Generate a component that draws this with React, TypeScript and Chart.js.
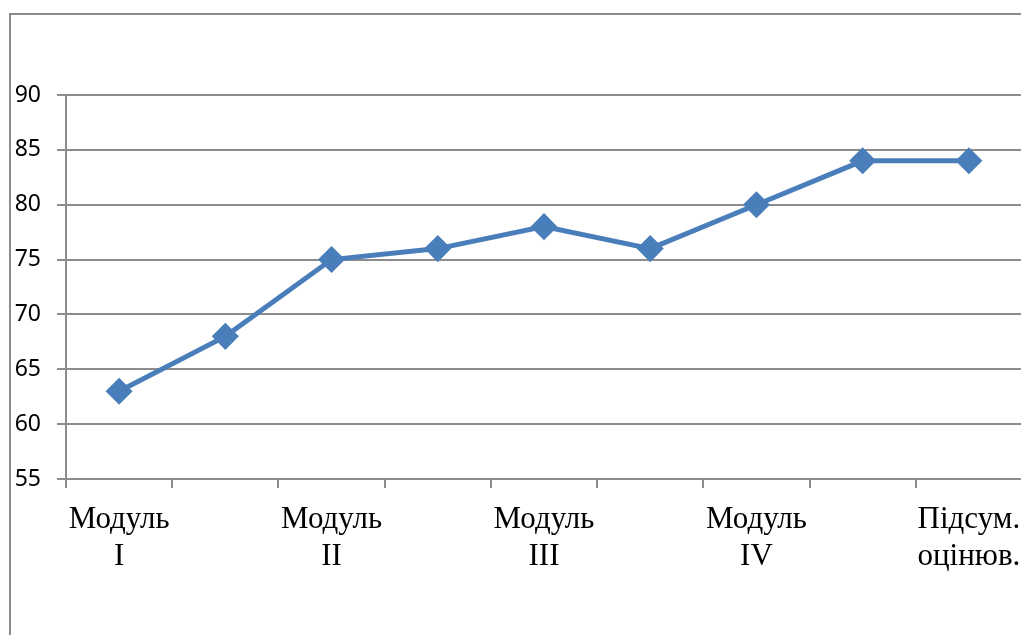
import React, { useEffect, useRef } from "react";
import { Chart, registerables } from "chart.js";

Chart.register(...registerables);

const categories: string[][] = [
  ["Модуль", "I"],
  [""],
  ["Модуль", "II"],
  [""],
  ["Модуль", "III"],
  [""],
  ["Модуль", "IV"],
  [""],
  ["Підсум.", "оцінюв."],
];
const values: number[] = [63, 68, 75, 76, 78, 76, 80, 84, 84];
const yMin = 55;
const yMax = 90;
const yStep = 5;

const W = 1100;
const H = 700;

export default function App() {
  const ref = useRef<HTMLCanvasElement>(null);
  useEffect(() => {
    if (!ref.current) return;
    const chart = new Chart(ref.current, {
      type: "line",
      data: {
        labels: categories,
        datasets: [
          {
            data: values,
            borderColor: "#4a7ebb",
            backgroundColor: "#4a7ebb",
            borderWidth: 5,
            pointStyle: "rectRot",
            pointRadius: 10,
            pointHoverRadius: 10,
            pointBackgroundColor: "#4a7ebb",
            pointBorderColor: "#4a7ebb",
            tension: 0,
          },
        ],
      },
      options: {
        animation: false,
        responsive: false,
        plugins: { legend: { display: false }, tooltip: { enabled: false } },
        layout: { padding: { top: 95, right: 78, left: 0, bottom: 0 } },
        scales: {
          x: {
            type: "category",
            offset: true,
            grid: {
              offset: true,
              drawOnChartArea: false,
              drawTicks: true,
              tickLength: 9,
              color: "#8c8c8c",
              lineWidth: 2,
            },
            border: { display: true, color: "#8c8c8c", width: 2 },
            ticks: {
              autoSkip: false,
              maxRotation: 0,
              minRotation: 0,
              padding: 13,
              color: "#000",
              font: { family: "'Liberation Serif', 'Times New Roman', serif", size: 31, lineHeight: 1.2 },
            },
            afterFit: (s: any) => {
              s.height = H - 479;
            },
          },
          y: {
            min: yMin,
            max: yMax,
            ticks: {
              stepSize: yStep,
              padding: 16,
              color: "#000",
              font: { family: "'Noto Sans', sans-serif", size: 23 },
            },
            grid: {
              color: "#8c8c8c",
              lineWidth: 2,
              tickLength: 9,
            },
            border: { display: true, color: "#8c8c8c", width: 2 },
            afterFit: (s: any) => {
              s.width = 66;
            },
          },
        },
      },
    });
    return () => chart.destroy();
  }, []);
  return (
    <div style={{ position: "fixed", left: 0, top: 0, width: 1021, height: 635, overflow: "hidden", background: "#fff" }}>
      <div
        style={{
          position: "absolute",
          left: 9,
          top: 13,
          width: 1200,
          height: 800,
          border: "2px solid #8c8c8c",
          boxSizing: "border-box",
        }}
      />
      <canvas
        ref={ref}
        width={W}
        height={H}
        style={{ position: "absolute", left: 0, top: 0, width: W, height: H }}
      />
    </div>
  );
}
